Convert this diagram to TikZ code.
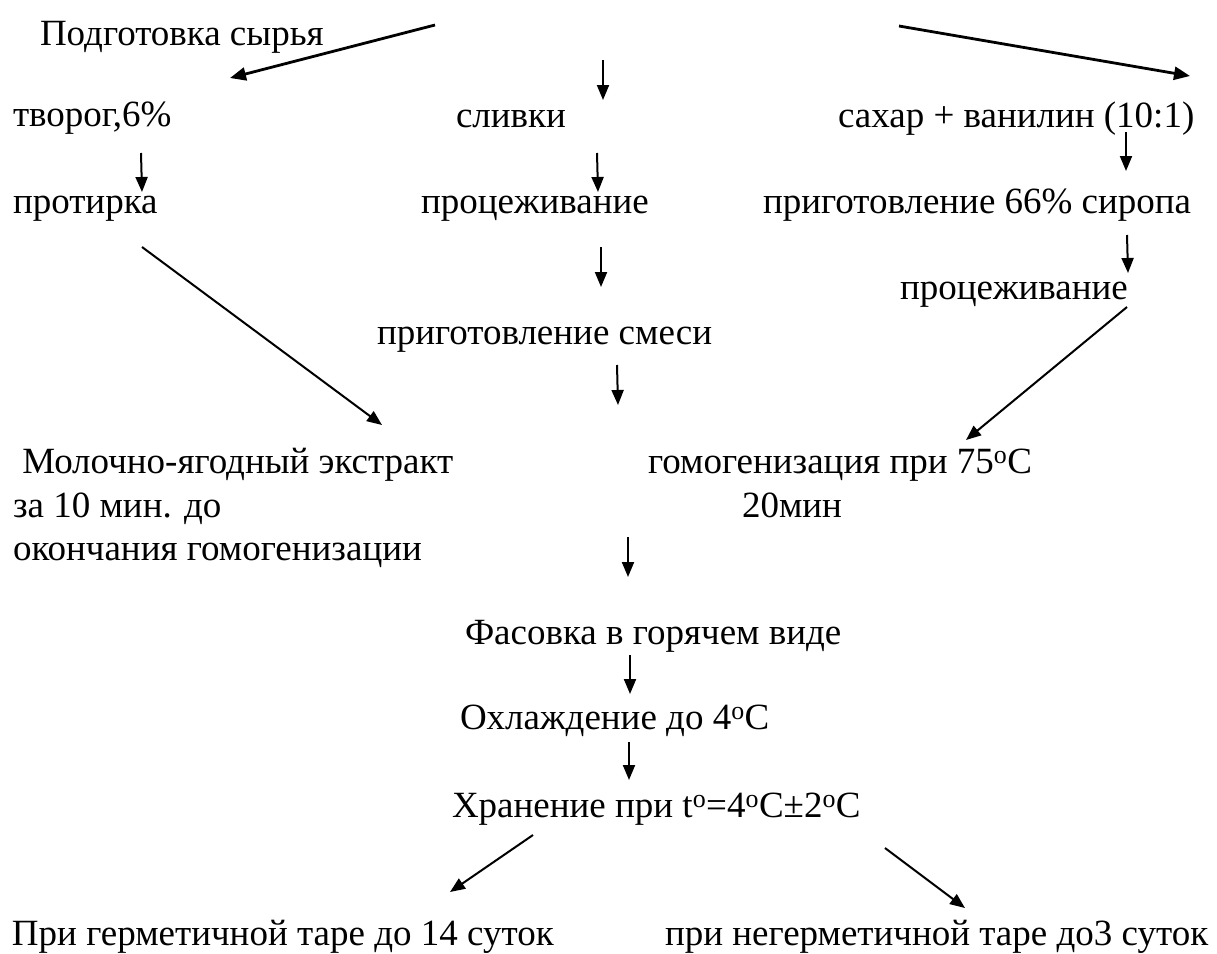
\documentclass[tikz,border=0pt]{standalone}
\usepackage{fontspec}
\setmainfont{Liberation Serif}
\usetikzlibrary{arrows.meta}

\newcommand{\dg}{\textsuperscript{o}}

\tikzset{
  lbl/.style={anchor=base west, inner sep=0pt, outer sep=0pt,
              font=\fontsize{37}{43.5}\selectfont},
  flow/.style={line width=2pt, -{Triangle[length=15pt,width=12pt]}},
  flowthick/.style={line width=2.8pt, -{Triangle[length=16pt,width=13pt]}}
}

\begin{document}
\begin{tikzpicture}[x=1pt,y=-1pt]
\useasboundingbox (0,0) rectangle (1217,953);

% --- stage texts ---
\node[lbl] (prep)    at (40,45)   {Подготовка сырья};
\node[lbl] (tvorog)  at (13,126)  {творог,6\%};
\node[lbl] (slivki)  at (456,127) {сливки};
\node[lbl] (sugar)   at (838,127) {сахар + ванилин (10:1)};
\node[lbl] (protir)  at (13,213)  {протирка};
\node[lbl] (procA)   at (421,213) {процеживание};
\node[lbl] (syrup)   at (763,213) {приготовление 66\% сиропа};
\node[lbl] (procB)   at (900,299) {процеживание};
\node[lbl] (mix)     at (377,344) {приготовление смеси};
\node[lbl] (extA)    at (13,473)  {\ Молочно-ягодный экстракт};
\node[lbl] (extB)    at (13,517)  {за 10 мин. до};
\node[lbl] (extC)    at (13,560)  {окончания гомогенизации};
\node[lbl] (homA)    at (648,473) {гомогенизация при 75\dg C};
\node[lbl] (homB)    at (742,517) {20мин};
\node[lbl] (pack)    at (465,644) {Фасовка в горячем виде};
\node[lbl] (cool)    at (460,729) {Охлаждение до 4\dg C};
\node[lbl] (store)   at (452,817) {Хранение при t\dg=4\dg C±2\dg C};
\node[lbl] (herm)    at (12,945)  {При герметичной таре до 14 суток};
\node[lbl] (nonherm) at (665,945) {при негерметичной таре до3 суток};

% --- arrow end points ---
\coordinate (a1s) at (435,25);   \coordinate (a1e) at (230,78);
\coordinate (a2s) at (603,60);   \coordinate (a2e) at (603,100);
\coordinate (a3s) at (899,26);   \coordinate (a3e) at (1190,76);
\coordinate (a4s) at (141,153);  \coordinate (a4e) at (142,192);
\coordinate (a5s) at (597,153);  \coordinate (a5e) at (598,192);
\coordinate (a6s) at (1126,132); \coordinate (a6e) at (1126,171);
\coordinate (a7s) at (601,247);  \coordinate (a7e) at (601,287);
\coordinate (a8s) at (1127,235); \coordinate (a8e) at (1128,273);
\coordinate (a9s) at (142,247);  \coordinate (a9e) at (382,425);
\coordinate (a10s) at (1127,307); \coordinate (a10e) at (966,440);
\coordinate (a11s) at (617,365); \coordinate (a11e) at (618,405);
\coordinate (a12s) at (628,537); \coordinate (a12e) at (628,577);
\coordinate (a13s) at (630,655); \coordinate (a13e) at (630,694);
\coordinate (a14s) at (629,742); \coordinate (a14e) at (629,780);
\coordinate (a15s) at (533,835); \coordinate (a15e) at (450,892);
\coordinate (a16s) at (885,848); \coordinate (a16e) at (965,908);

% --- arrows ---
\draw[flowthick] (a1s) -- (a1e);
\draw[flow] (a2s) -- (a2e);
\draw[flowthick] (a3s) -- (a3e);
\draw[flow] (a4s) -- (a4e);
\draw[flow] (a5s) -- (a5e);
\draw[flow] (a6s) -- (a6e);
\draw[flow] (a7s) -- (a7e);
\draw[flow] (a8s) -- (a8e);
\draw[flow] (a9s) -- (a9e);
\draw[flow] (a10s) -- (a10e);
\draw[flow] (a11s) -- (a11e);
\draw[flow] (a12s) -- (a12e);
\draw[flow] (a13s) -- (a13e);
\draw[flow] (a14s) -- (a14e);
\draw[flow] (a15s) -- (a15e);
\draw[flow] (a16s) -- (a16e);
\end{tikzpicture}
\end{document}
